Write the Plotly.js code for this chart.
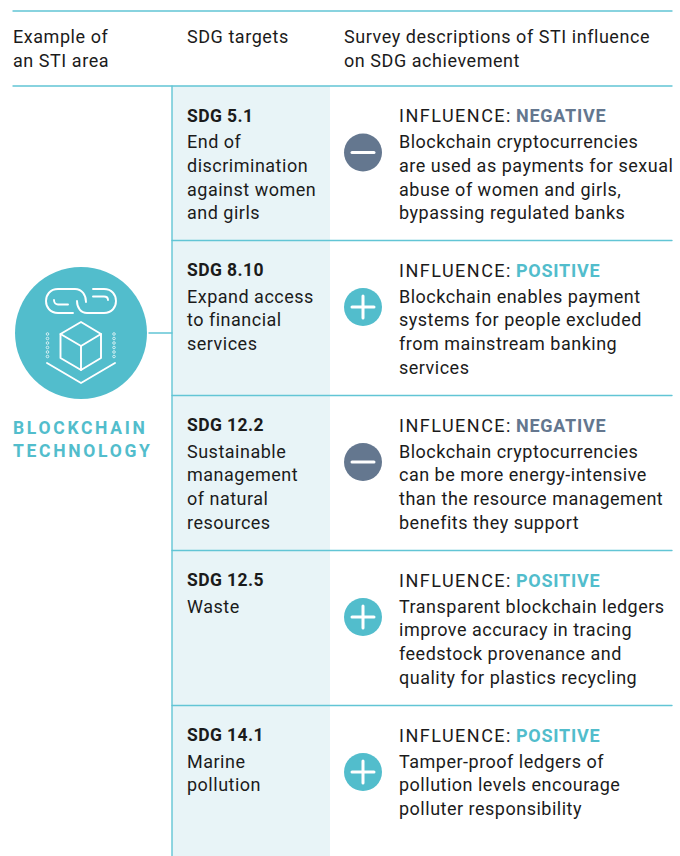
<!DOCTYPE html>
<html>
<head>
<meta charset="utf-8">
<script src="https://cdn.plot.ly/plotly-3.0.1.min.js"></script>
<style>
html,body{margin:0;padding:0;background:#fff}
#chart{width:680px;height:856px}
.shapelayer path{stroke-linecap:round;stroke-linejoin:round}
</style>
</head>
<body>
<div id="chart"></div>
<script>
// ---- content ----
const headerColumns = [["Example of","an STI area"],["SDG targets"],["Survey descriptions of STI influence","on SDG achievement"]];
const stiArea = ["BLOCKCHAIN","TECHNOLOGY"];
const sdgCodes = ["SDG 5.1","SDG 8.10","SDG 12.2","SDG 12.5","SDG 14.1"];
const sdgNames = [
  ["End of","discrimination","against women","and girls"],
  ["Expand access","to financial","services"],
  ["Sustainable","management","of natural","resources"],
  ["Waste"],
  ["Marine","pollution"]
];
const influenceLabel = "INFLUENCE:";
const influences = ["NEGATIVE","POSITIVE","NEGATIVE","POSITIVE","POSITIVE"];
const descriptions = [
  ["Blockchain cryptocurrencies","are used as payments for sexual","abuse of women and girls,","bypassing regulated banks"],
  ["Blockchain enables payment","systems for people excluded","from mainstream banking","services"],
  ["Blockchain cryptocurrencies","can be more energy-intensive","than the resource management","benefits they support"],
  ["Transparent blockchain ledgers","improve accuracy in tracing","feedstock provenance and","quality for plastics recycling"],
  ["Tamper-proof ledgers of","pollution levels encourage","polluter responsibility"]
];

// ---- layout and style ----
const W = 680, H = 856;
const rowTops = [86,240.5,395.5,550.5,705.5];
const TEAL = "#52bdcc", RULE = "#62c5d5", SHADE = "#e8f4f7", SLATE = "#64778f", INK = "#1b1b1b";
const FONT = "Roboto, sans-serif";
const colX = [12,186,343], descX = 398, valueX = 514.5, iconX = 363;

const annotations = [], shapes = [];
function label(x,y,text,o){
  o = o||{};
  const sp = o.spacing==null ? 0.5 : o.spacing;
  annotations.push({xref:"x",yref:"y",x:x,y:y,xanchor:"left",yanchor:"middle",showarrow:false,borderpad:0,
    align:"left",text:'<span style="letter-spacing:'+sp+'px">'+text+'</span>',
    font:{family:FONT,size:o.size||18,color:o.color||INK,weight:o.weight||400}});
}
function rule(x0,y0,x1,y1,w){shapes.push({type:"line",xref:"x",yref:"y",x0,y0,x1,y1,layer:"below",line:{color:RULE,width:w||1.4}});}
function stroke(d,w){shapes.push({type:"path",xref:"x",yref:"y",path:d,line:{color:"#fff",width:w||1.9},fillcolor:"rgba(0,0,0,0)"});}

// shaded column and rules
rowTops.forEach((t,i)=>{
  const b = i<rowTops.length-1 ? rowTops[i+1] : H;
  shapes.push({type:"rect",xref:"x",yref:"y",x0:172,x1:330,y0:t,y1:b,layer:"below",line:{width:0},fillcolor:SHADE});
});
rule(13,11,672,11); rule(13,86,672,86);
rowTops.slice(1).forEach(t=>rule(172,t,672,t));
rule(172,86,172,H); rule(149,333,172,333);

// header
const headerY = [36.5,60.5];
headerColumns.forEach((lines,c)=>lines.forEach((s,i)=>label(colX[c],headerY[i],s,{size:18,spacing:0.55})));

// rows
rowTops.forEach((t,r)=>{
  label(colX[1],t+29.5,sdgCodes[r],{weight:700,size:17.5,spacing:0.4});
  sdgNames[r].forEach((s,i)=>label(colX[1],t+55.5+i*23.8,s));
  label(descX,t+29.5,influenceLabel,{spacing:1.5});
  label(valueX,t+29.5,influences[r],{weight:700,color:influences[r]==="NEGATIVE"?SLATE:TEAL,spacing:0.75});
  descriptions[r].forEach((s,i)=>label(descX,t+55.5+i*23.8,s));
  const cy = t+66.5;
  stroke(`M${iconX-11},${cy} L${iconX+11},${cy}`,3);
  if(influences[r]==="POSITIVE") stroke(`M${iconX},${cy-11} L${iconX},${cy+11}`,3);
});

// STI area label
stiArea.forEach((s,i)=>label(12,428+i*23,s,{weight:700,color:TEAL,size:17.5,spacing:2.7}));

// blockchain pictogram
stroke("M73,313 L58,313 C50,313 46,307 46,301 C46,295 50,289 58,289 L75,289 C82,289 86,295 86,302");
stroke("M54,300 C54,303 56,304.5 58,304.5 L68,304.5");
stroke("M93,289 L104,289 C112,289 116,295 116,301 C116,307 112,313 104,313 L87,313 C81,313 77,308 77,301");
stroke("M93,296.5 L104,296.5 C107,296.5 108,298 108,300");
stroke("M81,322 L101,334 L101,358 L81,370 L60.5,358 L60.5,334 Z");
stroke("M60.5,334 L81,346 L101,334 M81,346 L81,370");
stroke("M47,363 L81,383 L115,363");

// circles drawn as markers through the axes
const iconYs = rowTops.map(t=>t+66.5);
const traces = [
  {type:"scatter",mode:"markers",x:[81],y:[333],hoverinfo:"skip",marker:{size:132,color:TEAL,line:{width:0}}},
  {type:"scatter",mode:"markers",x:iconYs.map(()=>iconX),y:iconYs,hoverinfo:"skip",
   marker:{size:38,color:influences.map(v=>v==="NEGATIVE"?SLATE:TEAL),line:{width:0}}},
  {type:"scatter",mode:"markers",hoverinfo:"skip",
   x:[47.5,47.5,47.5,47.5,47.5,47.5,114,114,114,114,114,114],
   y:[334,338.5,343,347.5,352,356.5,334,338.5,343,347.5,352,356.5],
   marker:{size:2.6,color:"rgba(0,0,0,0)",line:{color:"#fff",width:0.7}}}
];

Plotly.newPlot("chart",traces,{
  width:W,height:H,margin:{l:0,r:0,t:0,b:0},showlegend:false,
  paper_bgcolor:"#fff",plot_bgcolor:"#fff",
  xaxis:{range:[0,W],visible:false,fixedrange:true},
  yaxis:{range:[H,0],visible:false,fixedrange:true},
  shapes,annotations
},{displayModeBar:false,staticPlot:true});
</script>
</body>
</html>
